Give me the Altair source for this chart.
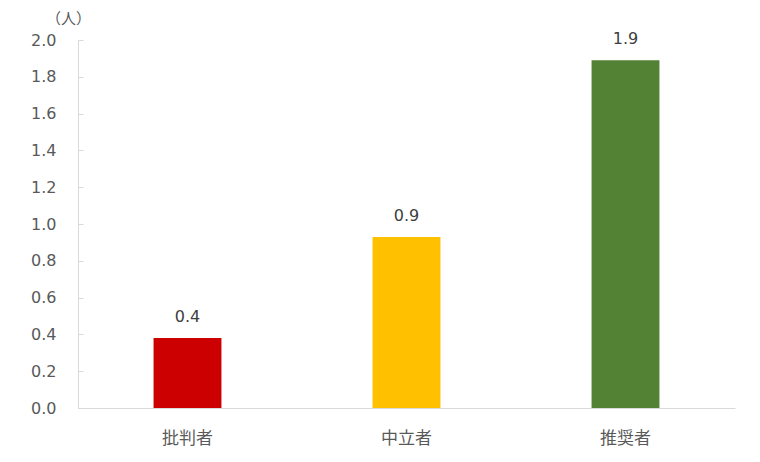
import pandas as pd
import altair as alt

# data
categories = ["批判者", "中立者", "推奨者"]
values = [0.38, 0.93, 1.89]
labels = ["0.4", "0.9", "1.9"]
colors = ["#CC0000", "#FFC000", "#548235"]

df = pd.DataFrame({"group": categories, "value": values, "label": labels})

font = "DejaVu Sans, Noto Sans CJK JP"
ticks = [i / 10 for i in range(0, 21, 2)]

xenc = alt.X("group:N", sort=categories, title=None,
             scale=alt.Scale(paddingInner=0.69, paddingOuter=0.345),
             axis=alt.Axis(labelAngle=0, labelPadding=22, ticks=False,
                           domainColor="#d9d9d9", labelColor="#595959",
                           labelFontSize=17, labelFont=font))

bars = alt.Chart(df).mark_bar().encode(
    x=xenc,
    y=alt.Y("value:Q", title="（人）",
            scale=alt.Scale(domain=[0, 2.0]),
            axis=alt.Axis(values=ticks, format=".1f", ticks=False,
                          grid=False, domainColor="#d9d9d9",
                          labelPadding=22, labelColor="#595959",
                          labelFontSize=16, labelFont=font,
                          titleAngle=0, titleX=-10, titleY=-14, titleAlign="center",
                          titleFontWeight="normal", titleFontSize=15,
                          titleColor="#595959", titleFont=font)),
    color=alt.Color("group:N", sort=categories,
                    scale=alt.Scale(domain=categories, range=colors), legend=None),
)

# value labels; its own axis on the right, shifted onto the left edge, gives inward ticks
text = alt.Chart(df).mark_text(dy=-21, fontSize=16, color="#404040", font=font).encode(
    x=xenc,
    y=alt.Y("value:Q", title=None, scale=alt.Scale(domain=[0, 2.0]),
            axis=alt.Axis(orient="right", offset=-657, values=ticks, labels=False,
                          domain=False, grid=False, tickColor="#d9d9d9", tickSize=5)),
    text="label:N",
)

chart = (bars + text).resolve_axis(y="independent").properties(
    width=657, height=368,
    autosize=alt.AutoSizeParams(type="none"),
    padding={"left": 70, "top": 32, "right": 17, "bottom": 46},
).configure_view(stroke=None)

chart.save("out.html", embed_options={"renderer": "svg", "actions": False})
